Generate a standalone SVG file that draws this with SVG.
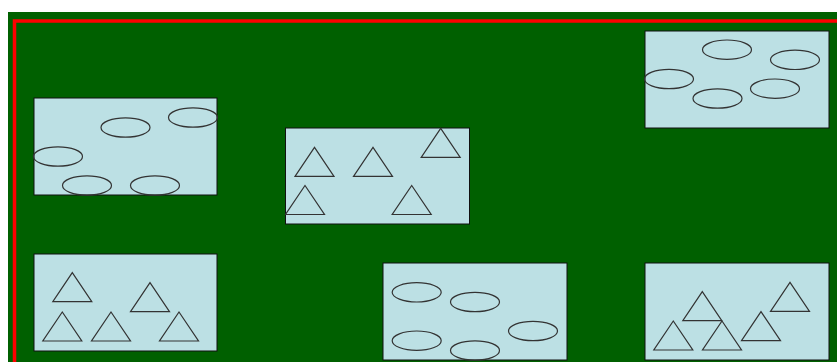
<svg xmlns="http://www.w3.org/2000/svg" width="837" height="362" viewBox="0 0 837 362">
<style>
.box{fill:#bce0e4;stroke:#111;stroke-width:1}
.e{fill:none;stroke:#333;stroke-width:1.2}
.t{fill:none;stroke:#333;stroke-width:1.2}
</style>
<defs>
<ellipse id="el" cx="0" cy="0" rx="24.5" ry="9.7" class="e"/>
<path id="tr" d="M0,0 L19.5,29 L-19.5,29 Z" class="t"/>
</defs>
<rect x="0" y="0" width="837" height="362" fill="#ffffff"/>
<rect x="8" y="12" width="840" height="360" fill="#006000"/>
<rect x="14.5" y="21" width="900" height="400" fill="none" stroke="#ff0000" stroke-width="3.5"/>

<g id="box-ellipses-1">
<rect class="box" x="34" y="98" width="183" height="97"/>
<use href="#el" x="125.5" y="127.5"/>
<use href="#el" x="193" y="117.5"/>
<use href="#el" x="58" y="156.5"/>
<use href="#el" x="87" y="185.5"/>
<use href="#el" x="155" y="185.5"/>
</g>

<g id="box-triangles-1">
<rect class="box" x="285.5" y="128" width="184" height="96"/>
<use href="#tr" x="314.5" y="147.3"/>
<use href="#tr" x="373" y="147.3"/>
<use href="#tr" x="440.7" y="128.3"/>
<use href="#tr" x="305" y="185.5"/>
<use href="#tr" x="411.7" y="185.5"/>
</g>

<g id="box-ellipses-2">
<rect class="box" x="645" y="31" width="184" height="97"/>
<use href="#el" x="727" y="49.7"/>
<use href="#el" x="795" y="59.8"/>
<use href="#el" x="669" y="79"/>
<use href="#el" x="717.5" y="98.5"/>
<use href="#el" x="775" y="88.7"/>
</g>

<g id="box-triangles-2">
<rect class="box" x="34" y="254" width="183" height="97"/>
<use href="#tr" x="72.3" y="272.7"/>
<use href="#tr" x="150" y="282.7"/>
<use href="#tr" x="62.3" y="312"/>
<use href="#tr" x="111" y="312"/>
<use href="#tr" x="179" y="312"/>
</g>

<g id="box-ellipses-3">
<rect class="box" x="383" y="263" width="184" height="97"/>
<use href="#el" x="416.7" y="292.3"/>
<use href="#el" x="475" y="302"/>
<use href="#el" x="416.7" y="340.7"/>
<use href="#el" x="475" y="350.5"/>
<use href="#el" x="533" y="331"/>
</g>

<g id="box-triangles-3">
<rect class="box" x="645" y="263" width="184" height="97"/>
<use href="#tr" x="702.3" y="291.7"/>
<use href="#tr" x="790" y="282.3"/>
<use href="#tr" x="673.3" y="321"/>
<use href="#tr" x="722" y="321"/>
<use href="#tr" x="761" y="311.7"/>
</g>

<g id="connectors"></g>
</svg>
